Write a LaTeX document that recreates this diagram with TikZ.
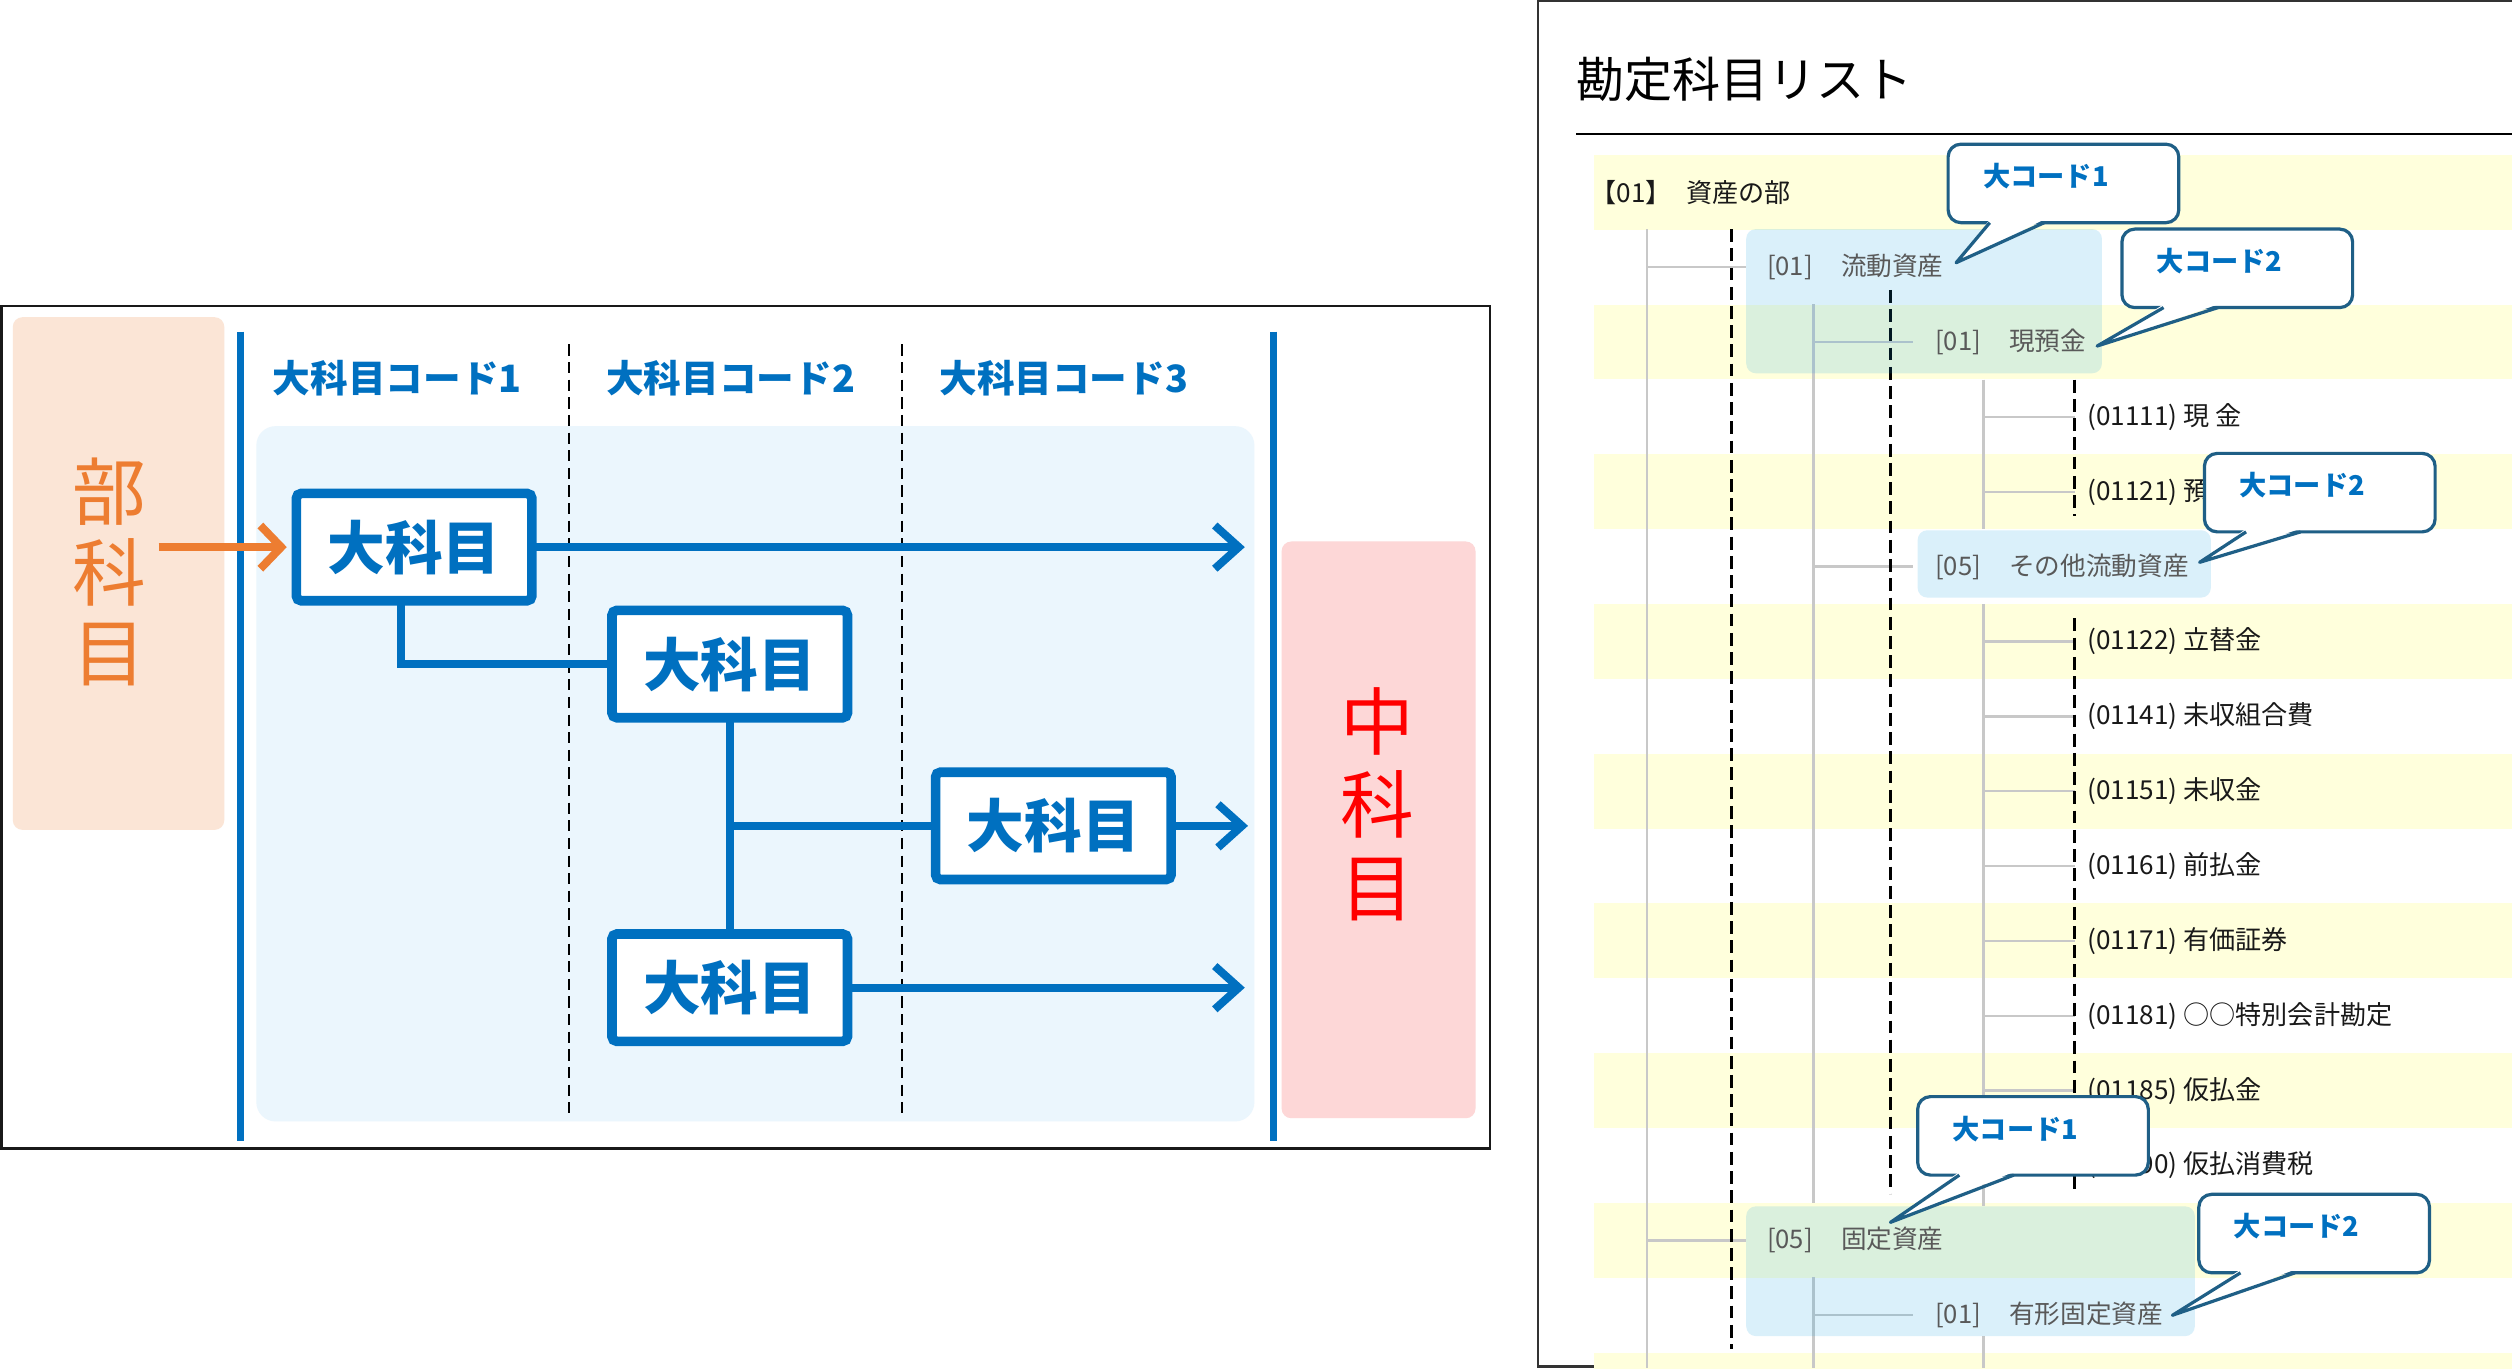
\documentclass[tikz,border=0pt]{standalone}
\usepackage{fontspec}
\setmainfont{Noto Sans CJK JP}
\usetikzlibrary{arrows.meta}
\definecolor{kblue}{HTML}{0070C0}
\definecolor{korange}{HTML}{ED7D31}
\definecolor{peach}{HTML}{FBE5D6}
\definecolor{pinkbg}{HTML}{FDD7D7}
\definecolor{areabg}{HTML}{EBF6FD}
\definecolor{stripe}{HTML}{FFFFDC}
\definecolor{treegray}{HTML}{C8C8C8}
\definecolor{hlblue}{rgb}{0.03,0.63,0.89}
\definecolor{calledge}{HTML}{1F5F86}
\definecolor{grouptext}{HTML}{595959}

\begin{document}
\begin{tikzpicture}[x=1pt, y=-1pt,
  every node/.style={inner sep=0pt, outer sep=0pt},
  kamoku/.style={draw=kblue, line width=6pt, fill=white, rounded corners=3pt,
    minimum width=147pt, minimum height=67pt, text=kblue,
    font=\fontsize{36}{36}\selectfont\bfseries},
  codehead/.style={text=kblue, font=\fontsize{23.5}{23.5}\selectfont\bfseries},
  flow/.style={draw=kblue, line width=5pt},
  flowarrow/.style={flow, -{Straight Barb[length=15pt, width=27pt]}},
  colsep/.style={black, line width=1.5pt, dash pattern=on 7pt off 4pt},
  treeline/.style={treegray, line width=1.5pt},
  levelsep/.style={black, line width=2pt, dash pattern=on 8pt off 4pt},
  hilite/.style={fill=hlblue, fill opacity=0.15, rounded corners=6pt},
  grouprow/.style={anchor=west, text=grouptext, font=\fontsize{16}{16}\selectfont},
  leafrow/.style={anchor=west, text=black!90, font=\fontsize{16.3}{16.3}\selectfont},
  callbox/.style={draw=calledge, line width=2pt, fill=white, rounded corners=8pt,
    minimum width=144pt, minimum height=49pt},
  calltext/.style={text=kblue, font=\fontsize{17}{17}\selectfont\bfseries}]

\useasboundingbox (0,0) rectangle (1568,854);
\fill[white] (0,0) rectangle (1568,854);

% left: flow of codes
\draw[black!90, line width=1.5pt] (1,191) rectangle (930,717);
\fill[peach, rounded corners=6pt] (8,198) rectangle (140,518);
\node[align=center, text=korange, font=\fontsize{46}{50.5}\selectfont] (bu) at (68,357) {部\\科\\目};
\fill[areabg, rounded corners=12pt] (160,266) rectangle (783,700);
\fill[pinkbg, rounded corners=6pt] (800,338) rectangle (921,698);
\node[align=center, text=red, font=\fontsize{46}{52}\selectfont] (chu) at (860,502) {中\\科\\目};

\draw[kblue, line width=4.5pt] (150,207) -- (150,712);
\draw[kblue, line width=4.5pt] (795,207) -- (795,712);
\draw[colsep] (355,215) -- (355,695);
\draw[colsep] (563,215) -- (563,695);

\node[codehead] (h1) at (248,236) {大科目コード1};
\node[codehead] (h2) at (456,236) {大科目コード2};
\node[codehead] (h3) at (664,236) {大科目コード3};

\node[kamoku] (b1) at (258.5,341.5) {大科目};
\node[kamoku] (b2) at (455.5,414.5) {大科目};
\node[kamoku] (b3) at (657.5,515.5) {大科目};
\node[kamoku] (b4) at (455.5,616.5) {大科目};
\coordinate (endcol) at (777,0);

\draw[korange, line width=5pt, -{Straight Barb[length=13pt, width=27pt]}]
  ([xshift=8pt]bu.east |- b1.west) -- ([xshift=-6pt]b1.west);
\draw[flowarrow] (b1.east) -- (b1.east -| endcol);
\draw[flowarrow] (b3.east) -- ([xshift=2pt]b3.east -| endcol);
\draw[flowarrow] (b4.east) -- (b4.east -| endcol);
\draw[flow] ([xshift=-8pt]b1.south) |- (b2.west);
\draw[flow] (b2.south) -- (b4.north);
\draw[flow] (b2.south |- b3.west) -- (b3.west);

% right: account list
\draw[black!80, line width=1.5pt] (1600,0.75) -- (960,0.75) -- (960,853) -- (1600,853);
\node[anchor=west, font=\fontsize{30}{30}\selectfont] (title) at (984,49.5) {勘定科目リスト};
\draw[black, line width=1.5pt] (984,83.6) -- (1568,83.6);

\foreach \r in {0,2,...,16}
  \fill[stripe] (995,{120+46.73*\r-23.36}) rectangle (1568,{120+46.73*\r+23.36});

\draw[treeline] (1028,143) -- (1028,854);
\draw[treeline] (1132,190) -- (1132,751);
\draw[treeline] (1132,797) -- (1132,854);
\draw[treeline] (1238,237) -- (1238,330);
\draw[treeline] (1238,377) -- (1238,753);
\draw[treeline] (1238,834) -- (1238,854);
\foreach \r in {1,14}
  \draw[treeline] (1028,{120+46.73*\r}) -- (1090,{120+46.73*\r});
\foreach \r in {2,5,15}
  \draw[treeline] (1132,{120+46.73*\r}) -- (1194,{120+46.73*\r});
\foreach \r in {3,4,6,7,...,13}
  \draw[treeline] (1238,{120+46.73*\r}) -- (1295,{120+46.73*\r});

\draw[levelsep] (1081,143) -- (1081,842);
\draw[levelsep] (1180,181) -- (1180,745);
\draw[levelsep] (1295,237) -- (1295,322);
\draw[levelsep] (1295,386) -- (1295,744);

\fill[hilite] (1090,143) rectangle (1312,233);
\fill[hilite] (1197,331) rectangle (1380,373);
\fill[hilite] (1090,753) rectangle (1370,834);

\node[leafrow] (r0) at (993,120) {【01】\hspace{0.55em}資産の部};
\node[grouprow] (r1) at (1103,166.7) {[01]\hspace{1.1em}流動資産};
\node[grouprow] (r2) at (1208,213.5) {[01]\hspace{1.1em}現預金};
\node[grouprow] (r5) at (1208,353.7) {[05]\hspace{1.1em}その他流動資産};
\node[grouprow] (r14) at (1103,774.2) {[05]\hspace{1.1em}固定資産};
\node[grouprow] (r15) at (1208,821) {[01]\hspace{1.1em}有形固定資産};
\foreach \r/\txt in {3/{(01111) 現 金}, 4/{(01121) 預金}, 6/{(01122) 立替金},
    7/{(01141) 未収組合費}, 8/{(01151) 未収金}, 9/{(01161) 前払金},
    10/{(01171) 有価証券}, 11/{(01181) ○○特別会計勘定}, 12/{(01185) 仮払金},
    13/{(01190) 仮払消費税}}
  \node[leafrow] (r\r) at (1303,{120+46.73*\r}) {\txt};

% callouts
\foreach \nm/\cx/\cy/\px/\py/\lab in {c1/1288/114.5/1221/164/大コード1,
    c2/1396.5/167.5/1309/216/大コード2, c3/1448/307.5/1373/351/大コード2,
    c4/1269/709/1180/763/大コード1, c5/1444.5/770/1356/821/大コード2}{
  \node[callbox] (\nm) at (\cx,\cy) {};
  \fill[white] ([xshift=-46pt, yshift=2pt]\nm.south) -- (\px,\py)
    -- ([xshift=-12pt, yshift=2pt]\nm.south) -- cycle;
  \draw[calledge, line width=2pt, line join=round] ([xshift=-46pt]\nm.south) -- (\px,\py)
    -- ([xshift=-12pt]\nm.south);
  \node[calltext] (\nm-t) at ([xshift=-11pt, yshift=4.5pt]\nm.center) {\lab};
}
\end{tikzpicture}
\end{document}
